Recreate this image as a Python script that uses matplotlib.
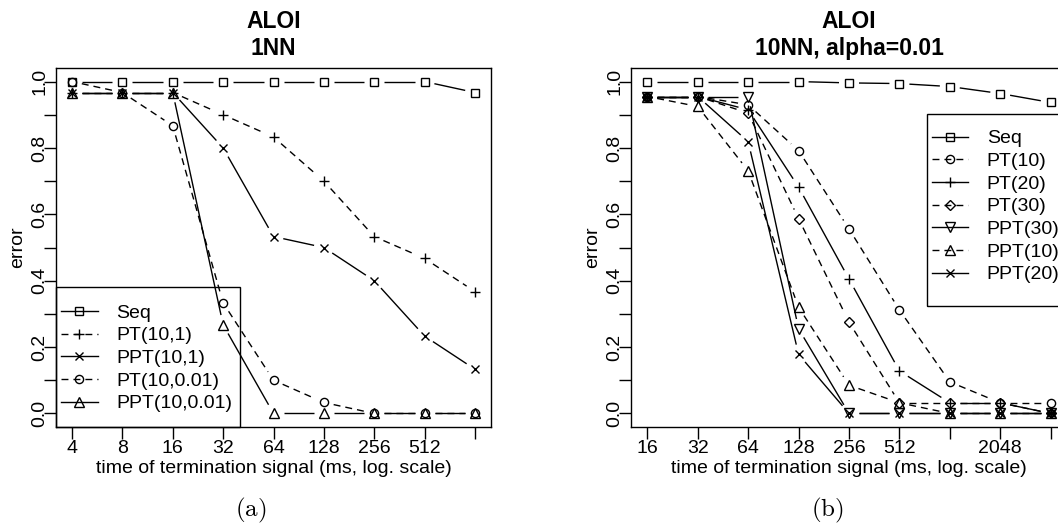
import numpy as np
import matplotlib
matplotlib.use('Agg')
import matplotlib.pyplot as plt
from matplotlib.lines import Line2D
from matplotlib.patches import Rectangle

# ---------------- data ----------------
left_x = [4, 8, 16, 32, 64, 128, 256, 512, 1024]
left_xticklabels = ['4', '8', '16', '32', '64', '128', '256', '512', '']
left_labels = ['Seq', 'PT(10,1)', 'PPT(10,1)', 'PT(10,0.01)', 'PPT(10,0.01)']
left_seq = [1.0, 1.0, 1.0, 1.0, 1.0, 1.0, 1.0, 1.0, 0.967]
left_pt_10_1 = [0.967, 0.967, 0.967, 0.9, 0.833, 0.7, 0.533, 0.467, 0.367]
left_ppt_10_1 = [0.967, 0.967, 0.967, 0.8, 0.533, 0.5, 0.4, 0.233, 0.133]
left_pt_10_001 = [1.0, 0.967, 0.867, 0.333, 0.1, 0.033, 0.0, 0.0, 0.0]
left_ppt_10_001 = [0.967, 0.967, 0.967, 0.267, 0.0, 0.0, 0.0, 0.0, 0.0]

right_x = [16, 32, 64, 128, 256, 512, 1024, 2048, 4096]
right_xticklabels = ['16', '32', '64', '128', '256', '512', '', '2048', '']
right_labels = ['Seq', 'PT(10)', 'PT(20)', 'PT(30)', 'PPT(30)', 'PPT(10)', 'PPT(20)']
right_seq = [1.0, 1.0, 1.0, 1.0, 0.996, 0.994, 0.985, 0.964, 0.937]
right_pt10 = [0.955, 0.955, 0.93, 0.792, 0.556, 0.312, 0.095, 0.032, 0.032]
right_pt20 = [0.955, 0.955, 0.915, 0.682, 0.405, 0.128, 0.032, 0.032, 0.0]
right_pt30 = [0.955, 0.955, 0.905, 0.587, 0.275, 0.032, 0.032, 0.032, 0.0]
right_ppt30 = [0.955, 0.955, 0.955, 0.255, 0.0, 0.0, 0.0, 0.0, 0.0]
right_ppt10 = [0.955, 0.925, 0.731, 0.32, 0.085, 0.032, 0.0, 0.0, 0.0]
right_ppt20 = [0.955, 0.955, 0.819, 0.178, 0.0, 0.0, 0.0, 0.0, 0.0]

yticks = [0.0, 0.1, 0.2, 0.3, 0.4, 0.5, 0.6, 0.7, 0.8, 0.9, 1.0]
yticklabels = ['0.0', '', '0.2', '', '0.4', '', '0.6', '', '0.8', '', '1.0']

titles_left = ['ALOI', '1NN']
titles_right = ['ALOI', '10NN, alpha=0.01']
xlabel = 'time of termination signal (ms, log. scale)'
ylabel = 'error'

# ---------------- style ----------------
plt.rcParams['font.family'] = ['Liberation Sans', 'DejaVu Sans']
plt.rcParams['mathtext.fontset'] = 'cm'
plt.rcParams['lines.scale_dashes'] = False

LW = 1.0
MEW = 1.0
DASH = (0, (5.0, 3.6))
GAP = 10.0
FS = 14
MARK = {
    's': 5.4, 'o': 5.9, '+': 7.6, 'x': 6.4, '^': 7.0, 'v': 7.0, 'D': 4.8,
}

W, H = 1058, 531
fig = plt.figure(figsize=(W / 100, H / 100), dpi=100)
fig.patch.set_facecolor('white')

ax_bottom = (H - 426.7) / H
ax_height = 358.4 / H
axL = fig.add_axes([55.9 / W, ax_bottom, 435.2 / W, ax_height])
axR = fig.add_axes([631.2 / W, ax_bottom, 435.6 / W, ax_height])


def setup(ax, xs, xlabels):
    ax.set_xscale('log', base=2)
    lo, hi = np.log2(xs[0]), np.log2(xs[-1])
    ext = 0.04 * (hi - lo)
    ax.set_xlim(2 ** (lo - ext), 2 ** (hi + ext))
    ax.set_ylim(-0.04, 1.04)
    ax.set_xticks(xs)
    ax.set_xticklabels(xlabels)
    ax.minorticks_off()
    ax.set_yticks(yticks)
    ax.set_yticklabels(yticklabels, rotation=90, va='center')
    ax.tick_params(direction='out', length=8.4, width=1.0, labelsize=FS,
                   top=False, right=False)
    ax.tick_params(axis='x', pad=1.0)
    ax.tick_params(axis='y', pad=-3.0)
    for sp in ax.spines.values():
        sp.set_linewidth(1.0)
    ax.set_facecolor('white')


def draw_b(ax, xs, ys, ls, marker):
    """R type='b': points plus line segments that stop short of the points."""
    pts = ax.transData.transform(np.column_stack([xs, ys]))
    inv = ax.transData.inverted()
    for i in range(len(xs) - 1):
        p0, p1 = pts[i], pts[i + 1]
        d = p1 - p0
        L = np.hypot(d[0], d[1])
        if L <= 2 * GAP:
            continue
        u = d / L
        seg = inv.transform(np.vstack([p0 + u * GAP, p1 - u * GAP]))
        ax.plot(seg[:, 0], seg[:, 1], color='black', lw=LW, linestyle=ls,
                solid_capstyle='butt', dash_capstyle='butt')
    ax.plot(xs, ys, linestyle='none', marker=marker, ms=MARK[marker],
            mfc='none', mec='black', mew=MEW, clip_on=False)


def handle(ls, marker):
    return Line2D([], [], color='black', lw=LW, linestyle=ls, marker=marker,
                  ms=MARK[marker], mfc='none', mec='black', mew=MEW)


def decorate(ax, titles):
    ax.text(0.5, 1.1116, titles[0], transform=ax.transAxes, ha='center',
            va='baseline', fontsize=16.5, fontweight='bold')
    ax.text(0.5, 1.0371, titles[1], transform=ax.transAxes, ha='center',
            va='baseline', fontsize=16.5, fontweight='bold')
    ax.text(0.5, -0.1292, xlabel, transform=ax.transAxes, ha='center',
            va='baseline', fontsize=FS)
    ax.text(-38.5 / 435.4, 0.5, ylabel, transform=ax.transAxes, ha='center',
            va='center', rotation=90, fontsize=FS)


# ---------------- left panel ----------------
setup(axL, left_x, left_xticklabels)
left_series = [left_seq, left_pt_10_1, left_ppt_10_1, left_pt_10_001, left_ppt_10_001]
left_styles = [('-', 's'), (DASH, '+'), ('-', 'x'), (DASH, 'o'), ('-', '^')]
for ys, (ls, mk) in zip(left_series, left_styles):
    draw_b(axL, left_x, ys, ls, mk)
decorate(axL, titles_left)
axL.add_patch(Rectangle((0, 0), 0.4227, 0.3906, transform=axL.transAxes,
                        fill=False, lw=1.0, ec='black', clip_on=False, zorder=3))
axL.legend([handle(ls, mk) for ls, mk in left_styles], left_labels,
           loc='upper left', bbox_to_anchor=(0.0115, 0.3418),
           bbox_transform=axL.transAxes, frameon=False, borderpad=0,
           borderaxespad=0, handlelength=1.89, handletextpad=0.94,
           labelspacing=0.26, fontsize=FS, numpoints=1)

# ---------------- right panel ----------------
setup(axR, right_x, right_xticklabels)
right_series = [right_seq, right_pt10, right_pt20, right_pt30,
                right_ppt30, right_ppt10, right_ppt20]
right_styles = [('-', 's'), (DASH, 'o'), ('-', '+'), (DASH, 'D'),
                ('-', 'v'), (DASH, '^'), ('-', 'x')]
for ys, (ls, mk) in zip(right_series, right_styles):
    draw_b(axR, right_x, ys, ls, mk)
decorate(axR, titles_right)
axR.add_patch(Rectangle((0.6784, 0.3368), 1 - 0.6784, 0.8717 - 0.3368,
                        transform=axR.transAxes, fill=False, lw=1.0,
                        ec='black', clip_on=False, zorder=3))
axR.legend([handle(ls, mk) for ls, mk in right_styles], right_labels,
           loc='upper left', bbox_to_anchor=(0.6899, 0.8283),
           bbox_transform=axR.transAxes, frameon=False, borderpad=0,
           borderaxespad=0, handlelength=1.89, handletextpad=0.94,
           labelspacing=0.26, fontsize=FS, numpoints=1)

# ---------------- sub-captions ----------------
fig.text(251 / W, 1 - 510 / H, r'$\mathrm{(a)}$', ha='center', va='center', fontsize=18)
fig.text(827 / W, 1 - 510 / H, r'$\mathrm{(b)}$', ha='center', va='center', fontsize=18)

fig.savefig('out.png', dpi=100, facecolor='white')
